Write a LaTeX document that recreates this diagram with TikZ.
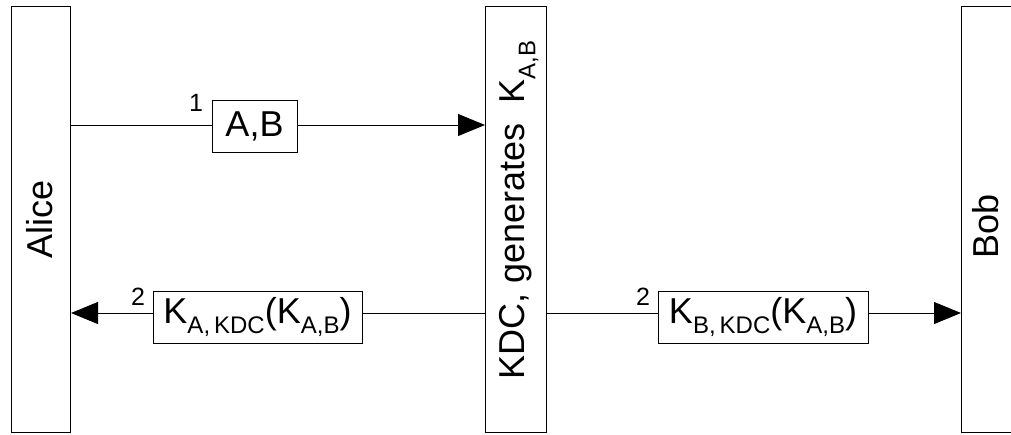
\documentclass[tikz,border=0pt]{standalone}
\usepackage{fontspec}
\setmainfont{Liberation Sans}
\usetikzlibrary{arrows.meta}
\newcommand\lsub[1]{\raisebox{-0.3em}{\fontsize{12}{14}\selectfont #1}}
\begin{document}
\begin{tikzpicture}[x=0.5pt,y=-0.5pt,
  bar/.style={draw,line width=0.5pt,inner sep=0pt,anchor=north west},
  msg/.style={draw,line width=0.5pt,inner sep=0pt,font=\fontsize{18}{21}\selectfont},
  lbl/.style={font=\fontsize{18}{21}\selectfont,inner sep=0pt},
  num/.style={font=\fontsize{12.5}{15}\selectfont,inner sep=0pt},
  conn/.style={line width=0.5pt},
  arr/.style={line width=0.5pt,-{Triangle[length=13.5pt,width=11pt]}}]
\useasboundingbox (0,0) rectangle (1011,434);
\clip (0,0) rectangle (1011,434);
% bars
\node[bar,minimum width=29.5pt,minimum height=213pt] (alice) at (11,6) {};
\node[bar,minimum width=30.5pt,minimum height=213pt] (kdc) at (485,6) {};
\node[bar,minimum width=40pt,minimum height=213pt] (bob) at (961,6) {};
% bar labels
\node[lbl,rotate=90] (alicelbl) at (40,219) {Alice};
\node[lbl,rotate=90] (kdclbl) at (519,210) {KDC,\ generates\ \ K\lsub{A,B}};
\node[lbl,rotate=90] (boblbl) at (986,226) {Bob};
% messages
\node[msg,minimum width=42.5pt,minimum height=26pt] (m1) at (254.5,126) {A,B};
\node[msg,minimum width=104.5pt,minimum height=26pt] (m2a) at (257.5,317) {K\lsub{A,\,KDC}(K\lsub{A,B})};
\node[msg,minimum width=105pt,minimum height=26pt] (m2b) at (763,317) {K\lsub{B,\,KDC}(K\lsub{A,B})};
% numbers
\node[num] (n1) at (196,103) {1};
\node[num] (n2a) at (138,297) {2};
\node[num] (n2b) at (643,297) {2};
% connectors
\coordinate (a1) at (alice.east |- 0,125);
\coordinate (a2) at (alice.east |- 0,313);
\coordinate (k1) at (kdc.west |- 0,125);
\coordinate (k2) at (kdc.west |- 0,313);
\coordinate (k3) at (kdc.east |- 0,313);
\coordinate (b2) at (bob.west |- 0,313);
\draw[conn] (a1) -- (m1.west |- a1);
\draw[arr] (m1.east |- k1) -- (k1);
\draw[conn] (k2) -- (m2a.east |- k2);
\draw[arr] (m2a.west |- a2) -- (a2);
\draw[conn] (k3) -- (m2b.west |- k3);
\draw[arr] (m2b.east |- b2) -- (b2);
\end{tikzpicture}
\end{document}
